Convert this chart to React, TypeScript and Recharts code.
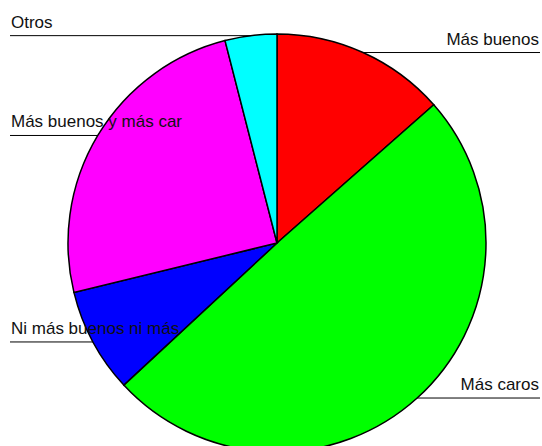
import React from 'react';
import { PieChart, Pie, Cell } from 'recharts';

// Slices, clockwise from 12 o'clock
const CATEGORIES = ['Más buenos', 'Más caros', 'Ni más buenos ni más', 'Más buenos y más car', 'Otros'];
const SHARES = [13.5, 49.6, 8.1, 24.8, 4.0];
const COLORS = ['#ff0000', '#00ff00', '#0000ff', '#ff00ff', '#00ffff'];

const data = CATEGORIES.map((name, i) => ({ name, value: SHARES[i] }));

const W = 542;
const H = 446;
const RAD = Math.PI / 180;

// horizontal leader line from the slice edge out to the side, text sitting on it
const renderLabel = (props: any) => {
  const { cx, cy, midAngle, outerRadius, index } = props;
  const x = cx + outerRadius * Math.cos(-midAngle * RAD);
  const y = cy + outerRadius * Math.sin(-midAngle * RAD);
  const right = x >= cx;
  const endX = right ? W - 2 : 10;
  return (
    <g key={`lbl-${index}`}>
      <line x1={x} y1={y} x2={endX} y2={y} stroke="#000" strokeWidth={1} />
      <text
        x={right ? W - 3 : 11}
        y={y - 8}
        textAnchor={right ? 'end' : 'start'}
        fill="#111"
        fontSize={17}
        fontFamily="'Liberation Sans', Arial, sans-serif"
      >
        {CATEGORIES[index]}
      </text>
    </g>
  );
};

export default function App() {
  return (
    <div style={{ position: 'absolute', left: 0, top: 0, width: W, height: H, background: '#fff' }}>
      <PieChart width={W} height={H} margin={{ top: 0, right: 0, bottom: 0, left: 0 }}>
        <Pie
          data={data}
          dataKey="value"
          nameKey="name"
          cx={277}
          cy={243}
          outerRadius={209}
          startAngle={90}
          endAngle={-270}
          stroke="#000"
          strokeWidth={1.5}
          label={renderLabel}
          labelLine={false}
          isAnimationActive={false}
        >
          {data.map((d, i) => (
            <Cell key={`cell-${i}`} fill={COLORS[i]} />
          ))}
        </Pie>
      </PieChart>
    </div>
  );
}
